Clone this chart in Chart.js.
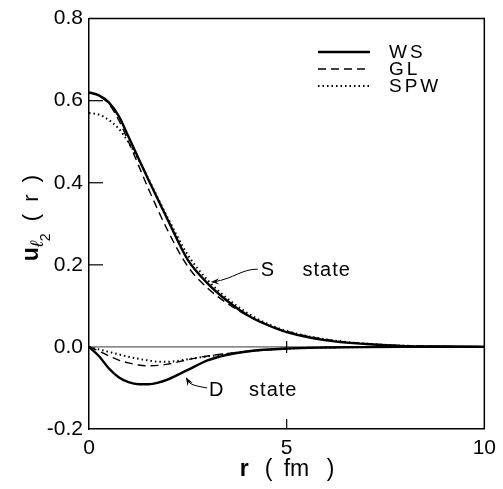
<!DOCTYPE html>
<html lang="en">
<head>
<meta charset="UTF-8">
<title>u_l2(r) radial wave functions</title>
<script src="https://cdn.jsdelivr.net/npm/chart.js"></script>
<style>
  html, body { margin: 0; padding: 0; background: #fff; }
  #wrap { width: 503px; height: 489px; }
</style>
</head>
<body>
<div id="wrap"><canvas id="chart"></canvas></div>
<script>
// S state (r in fm)
const rS   = [0, 0.25, 0.5, 0.75, 1, 1.25, 1.5, 2, 2.5, 3, 3.5, 4, 4.5, 5, 6, 7, 8, 9, 10];
const wsS  = [0.62, 0.613, 0.596, 0.563, 0.512, 0.46, 0.408, 0.308, 0.212, 0.155, 0.112, 0.078, 0.054, 0.036, 0.016, 0.007, 0.002, 0.001, 0];
const glS  = [0.62, 0.612, 0.592, 0.553, 0.500, 0.443, 0.386, 0.282, 0.196, 0.143, 0.106, 0.077, 0.055, 0.038, 0.018, 0.008, 0.003, 0.001, 0];
const spwS = [0.57, 0.566, 0.553, 0.532, 0.498, 0.457, 0.410, 0.313, 0.224, 0.163, 0.118, 0.083, 0.057, 0.039, 0.018, 0.008, 0.003, 0.001, 0];

// D state
const rD   = [0, 0.25, 0.5, 0.75, 1, 1.25, 1.5, 1.75, 2, 2.5, 3, 3.5, 4, 5, 6, 7, 8, 10];
const wsD  = [0, -0.022, -0.052, -0.074, -0.086, -0.091, -0.091, -0.087, -0.079, -0.056, -0.033, -0.019, -0.011, -0.004, -0.0015, -0.0005, 0, 0];
const glD  = [0, -0.010, -0.022, -0.032, -0.039, -0.044, -0.046, -0.045, -0.042, -0.031, -0.022, -0.016, -0.011, -0.004, -0.0015, -0.0005, 0, 0];
const spwD = [0, -0.006, -0.012, -0.018, -0.024, -0.029, -0.033, -0.036, -0.036, -0.030, -0.023, -0.017, -0.011, -0.004, -0.0015, -0.0005, 0, 0];

const seriesNames = ['WS', 'GL', 'SPW'];
const xTicks = [0, 5, 10];
const yTicks = [-0.2, 0, 0.2, 0.4, 0.6, 0.8];

const styles = {
  WS:  { width: 2.4, dash: [] },
  GL:  { width: 1.4, dash: [8, 5] },
  SPW: { width: 2,   dash: [1.5, 3] }
};

function pts(xs, ys) {
  return xs.map((x, i) => ({ x: x, y: ys[i] }));
}

function ds(name, xs, ys) {
  return {
    label: name,
    data: pts(xs, ys),
    borderColor: '#000',
    borderWidth: styles[name].width,
    borderDash: styles[name].dash,
    pointRadius: 0,
    fill: false,
    cubicInterpolationMode: 'monotone'
  };
}

const FONT = '"Liberation Sans", Arial, sans-serif';

// extra drawing: frame, inward ticks, zero line, legend, labels
const decor = {
  id: 'decor',
  beforeDatasetsDraw(chart) {
    const { ctx, chartArea: a, scales: { y } } = chart;
    const y0 = y.getPixelForValue(0);
    ctx.save();
    ctx.strokeStyle = '#000';
    ctx.lineWidth = 0.8;
    ctx.beginPath();
    ctx.moveTo(a.left, y0);
    ctx.lineTo(a.right, y0);
    ctx.stroke();
    ctx.restore();
  },
  afterDraw(chart) {
    const { ctx, chartArea: a, scales: { x, y } } = chart;
    ctx.save();
    ctx.strokeStyle = '#000';
    ctx.fillStyle = '#000';

    // top + right frame
    ctx.lineWidth = 1.5;
    ctx.beginPath();
    ctx.moveTo(a.left, a.top);
    ctx.lineTo(a.right, a.top);
    ctx.lineTo(a.right, a.bottom);
    ctx.stroke();

    // inward ticks
    ctx.lineWidth = 1.2;
    [0.2, 0.4, 0.6].forEach(v => {
      const py = y.getPixelForValue(v);
      ctx.beginPath();
      ctx.moveTo(a.left, py);
      ctx.lineTo(a.left + 14, py);
      ctx.stroke();
    });
    const x5 = x.getPixelForValue(5);
    const y0 = y.getPixelForValue(0);
    ctx.beginPath();
    ctx.moveTo(x5, a.bottom);
    ctx.lineTo(x5, a.bottom - 10);
    ctx.moveTo(x5, y0 - 6);
    ctx.lineTo(x5, y0 + 6);
    ctx.stroke();

    // legend
    ctx.font = '19px ' + FONT;
    ctx.textBaseline = 'middle';
    ctx.letterSpacing = '3px';
    seriesNames.forEach((n, i) => {
      const ly = 52 + i * 17;
      ctx.lineWidth = styles[n].width;
      ctx.setLineDash(styles[n].dash);
      ctx.beginPath();
      ctx.moveTo(318, ly);
      ctx.lineTo(370, ly);
      ctx.stroke();
      ctx.setLineDash([]);
      ctx.fillText(n, 389, ly + 1);
    });
    ctx.letterSpacing = '1px';

    // S state label + arrow
    ctx.font = '20px ' + FONT;
    const sx = x.getPixelForValue(4.47), sy = y.getPixelForValue(0.187);
    ctx.fillText('S', sx - 5, sy);
    ctx.fillText('state', x.getPixelForValue(5.4), sy);
    const sax = x.getPixelForValue(3.08), say = y.getPixelForValue(0.158);
    ctx.lineWidth = 1;
    ctx.beginPath();
    ctx.moveTo(sx - 8, sy - 1);
    ctx.bezierCurveTo(sx - 25, sy - 1, sx - 30, sy + 8, sax + 2, say);
    ctx.stroke();
    arrowHead(ctx, sax, say, sax + 12, say - 1);

    // D state label + arrow
    const dx = x.getPixelForValue(3.19), dy = y.getPixelForValue(-0.105);
    ctx.fillText('D', dx - 6, dy);
    ctx.fillText('state', x.getPixelForValue(4.05), dy);
    const dax = x.getPixelForValue(2.45), day = y.getPixelForValue(-0.074);
    ctx.beginPath();
    ctx.moveTo(dx - 8, dy - 2);
    ctx.lineTo(dx - 18, dy - 4);
    ctx.quadraticCurveTo(dax + 2, dy - 6, dax + 1, day + 1);
    ctx.stroke();
    arrowHead(ctx, dax, day, dax + 6, day + 10);
    ctx.letterSpacing = '0px';

    // x title: r ( fm ), spaced out like the original lettering
    ctx.textBaseline = 'alphabetic';
    const mid = (a.left + a.right) / 2;
    ctx.font = 'bold 23px ' + FONT;
    ctx.fillText('r', mid - 47, 476);
    ctx.font = '23px ' + FONT;
    ctx.fillText('(', mid - 22, 476);
    ctx.fillText('fm', mid - 3, 476);
    ctx.fillText(')', mid + 40, 476);

    // y title: u_l2 ( r )
    ctx.translate(38, 218);
    ctx.rotate(-Math.PI / 2);
    const parts = [
      { t: 'u', f: 'bold 23px ' + FONT, dy: 0 },
      { t: 'ℓ', f: 'italic 18px ' + FONT, dy: 5 },
      { t: '2', f: '14px ' + FONT, dy: 12 },
      { t: '  (  r  )', f: '22px ' + FONT, dy: 0 }
    ];
    let total = 0;
    parts.forEach(p => { ctx.font = p.f; p.w = ctx.measureText(p.t).width; total += p.w; });
    let cx = -total / 2;
    parts.forEach(p => { ctx.font = p.f; ctx.fillText(p.t, cx, p.dy); cx += p.w; });
    ctx.restore();
  }
};

function arrowHead(ctx, tipX, tipY, fromX, fromY) {
  const ang = Math.atan2(tipY - fromY, tipX - fromX);
  const len = 9, spread = 0.35;
  ctx.beginPath();
  ctx.moveTo(tipX, tipY);
  ctx.lineTo(tipX - len * Math.cos(ang - spread), tipY - len * Math.sin(ang - spread));
  ctx.lineTo(tipX - len * 0.6 * Math.cos(ang), tipY - len * 0.6 * Math.sin(ang));
  ctx.lineTo(tipX - len * Math.cos(ang + spread), tipY - len * Math.sin(ang + spread));
  ctx.closePath();
  ctx.fill();
}

const ctx = document.getElementById('chart').getContext('2d');
const chart = new Chart(ctx, {
  type: 'line',
  data: {
    datasets: [
      ds('WS', rS, wsS), ds('GL', rS, glS), ds('SPW', rS, spwS),
      ds('WS', rD, wsD), ds('GL', rD, glD), ds('SPW', rD, spwD)
    ]
  },
  options: {
    responsive: true,
    maintainAspectRatio: false,
    animation: false,
    layout: { padding: { top: 12, right: 16, left: 0, bottom: 0 } },
    plugins: { legend: { display: false }, tooltip: { enabled: false } },
    scales: {
      x: {
        type: 'linear',
        min: 0, max: 10,
        afterBuildTicks: s => { s.ticks = xTicks.map(v => ({ value: v })); },
        ticks: { color: '#000', font: { size: 21, family: FONT }, padding: 7, maxRotation: 0 },
        grid: { display: false, tickLength: 0 },
        border: { display: true, color: '#000', width: 1.5 },
        afterFit: s => { s.height = 60; }
      },
      y: {
        type: 'linear',
        min: -0.2, max: 0.8,
        afterBuildTicks: s => { s.ticks = yTicks.map(v => ({ value: v })); },
        ticks: {
          color: '#000', font: { size: 21, family: FONT }, padding: 6,
          callback: v => v.toFixed(1)
        },
        grid: { display: false, tickLength: 0 },
        border: { display: true, color: '#000', width: 1.5 },
        afterFit: s => { s.width = 89; }
      }
    }
  },
  plugins: [decor]
});
</script>
</body>
</html>
